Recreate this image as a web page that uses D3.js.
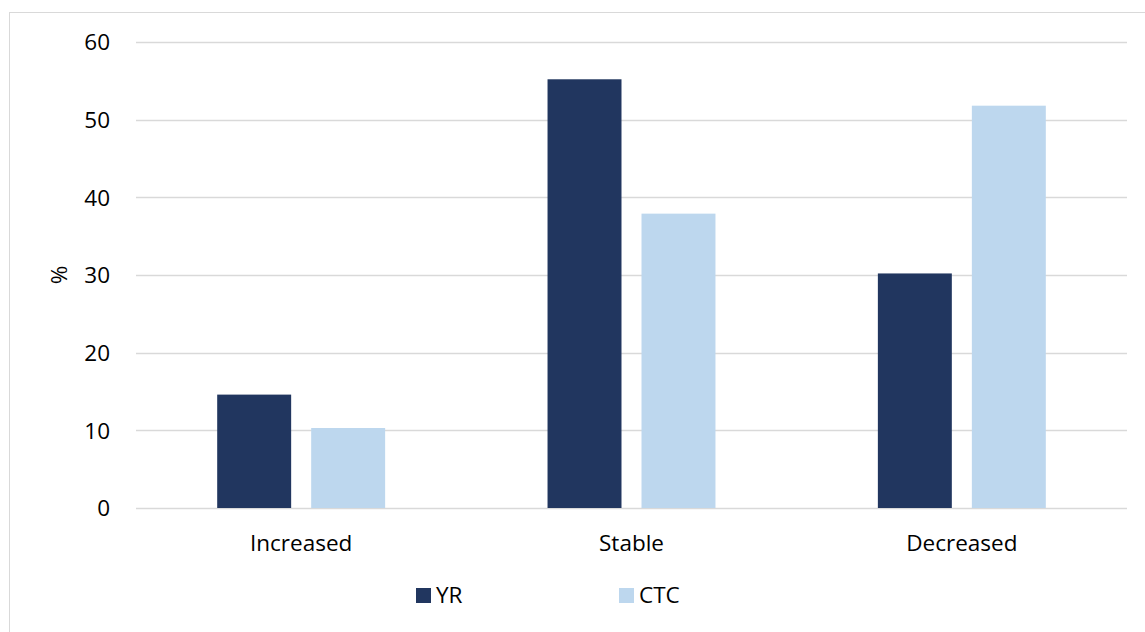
<!DOCTYPE html>
<html>
<head>
<meta charset="utf-8">
<script src="https://cdn.jsdelivr.net/npm/d3@7"></script>
<style>
  html, body { margin: 0; padding: 0; background: #fff; }
  svg text { font-family: "Open Sans", sans-serif; fill: #000; }
</style>
</head>
<body>
<svg id="chart" width="1145" height="632"></svg>
<script>
const categories = ["Increased", "Stable", "Decreased"];
const seriesNames = ["YR", "CTC"];
const yrValues = [14.6, 55.2, 30.2];
const ctcValues = [10.3, 37.9, 51.8];
const yTicks = [0, 10, 20, 30, 40, 50, 60];
const colors = ["#21365F", "#BDD7EE"];

const data = categories.map((c, i) => ({ cat: c, vals: [yrValues[i], ctcValues[i]] }));

const svg = d3.select("#chart");
const W = 1145, H = 632;
const plot = { left: 136, right: 1127, top: 42, bottom: 508 };
const FS = "22.5px";

// outer chart border (left & top visible)
svg.append("rect")
  .attr("x", 9.5).attr("y", 12.5)
  .attr("width", W).attr("height", H)
  .attr("fill", "none").attr("stroke", "#D9D9D9").attr("stroke-width", 1);

const x0 = d3.scaleBand().domain(categories).range([plot.left, plot.right]).padding(0);
const x1 = d3.scaleBand().domain(seriesNames).range([0, x0.bandwidth()])
  .paddingInner(0.213).paddingOuter(0.864);
const y = d3.scaleLinear().domain([0, 60]).range([plot.bottom, plot.top]);

// gridlines
svg.append("g").selectAll("line").data(yTicks).join("line")
  .attr("x1", plot.left).attr("x2", plot.right)
  .attr("y1", d => Math.round(y(d)) + 0.5).attr("y2", d => Math.round(y(d)) + 0.5)
  .attr("stroke", "#D9D9D9").attr("stroke-width", 1.5);

// y axis labels
const yAxis = d3.axisLeft(y).tickValues(yTicks).tickSize(0).tickPadding(0);
const gy = svg.append("g").attr("transform", `translate(110,0)`).call(yAxis);
gy.select(".domain").remove();
gy.selectAll("text").style("font-size", FS).attr("dy", "0.35em").attr("fill", "#000");

// bars
const groups = svg.append("g").selectAll("g").data(data).join("g")
  .attr("transform", d => `translate(${x0(d.cat)},0)`);
groups.selectAll("rect").data(d => d.vals.map((v, i) => ({ s: seriesNames[i], v, i })))
  .join("rect")
  .attr("x", d => x1(d.s))
  .attr("width", x1.bandwidth())
  .attr("y", d => y(d.v))
  .attr("height", d => y(0) - y(d.v))
  .attr("fill", d => colors[d.i]);

// x axis labels
const xAxis = d3.axisBottom(x0).tickSize(0).tickPadding(0);
const gx = svg.append("g").attr("transform", `translate(0,${plot.bottom + 27})`).call(xAxis);
gx.select(".domain").remove();
gx.selectAll("text").style("font-size", FS).attr("dy", "0.71em").attr("fill", "#000");

// y axis title
svg.append("text")
  .attr("transform", "translate(67,275) rotate(-90)")
  .attr("text-anchor", "middle")
  .style("font-size", FS)
  .text("%");

// legend
const legendX = [416, 619];
const lg = svg.append("g").selectAll("g").data(seriesNames).join("g")
  .attr("transform", (d, i) => `translate(${legendX[i]},588)`);
lg.append("rect").attr("width", 15).attr("height", 15).attr("fill", (d, i) => colors[i]);
lg.append("text").attr("x", 20).attr("y", 7.5).attr("dy", "0.35em")
  .style("font-size", FS).text(d => d);
</script>
</body>
</html>
